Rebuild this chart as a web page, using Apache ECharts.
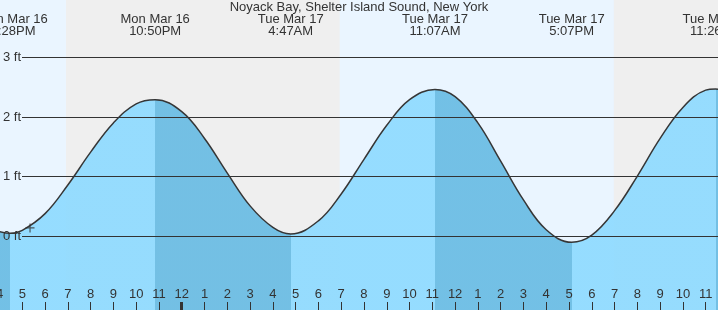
<!DOCTYPE html>
<html><head><meta charset="utf-8">
<script src="https://cdn.jsdelivr.net/npm/echarts@6/dist/echarts.min.js"></script>
<style>html,body{margin:0;padding:0;background:#fff}#c{width:718px;height:310px}</style>
</head><body><div id="c"></div>
<script>
// ---- data (hours counted from Mon Mar 16 00:00) ----
const chartTitle = 'Noyack Bay, Shelter Island Sound, New York';
const tideTimes   = [16.0, 16.467, 17, 18, 19, 20, 21, 22, 22.833, 24, 25, 26, 27, 28, 28.783, 30, 31, 32, 33, 34, 35.117, 36, 37, 38, 39, 40, 41.117, 42, 43, 44, 45, 46, 47, 47.433, 47.6];
const tideHeights = [0.08, 0.05, 0.10, 0.38, 0.86, 1.41, 1.90, 2.22, 2.29, 2.09, 1.64, 1.06, 0.51, 0.15, 0.04, 0.26, 0.71, 1.29, 1.86, 2.29, 2.46, 2.34, 1.90, 1.26, 0.61, 0.11, -0.10, 0.02, 0.43, 1.01, 1.64, 2.16, 2.45, 2.47, 2.46];
const extremaTimes = [16.467, 22.833, 28.783, 35.117, 41.117, 47.433];
const extremaKinds = ['low', 'high', 'low', 'high', 'low', 'high'];
const extremaDays  = ['Mon Mar 16', 'Mon Mar 16', 'Tue Mar 17', 'Tue Mar 17', 'Tue Mar 17', 'Tue Mar 17'];
const extremaClock = ['4:28PM', '10:50PM', '4:47AM', '11:07AM', '5:07PM', '11:26PM'];
const nightStarts = [18.917, 42.967];
const nightEnds   = [30.933, 48.0];
const hourTicks  = [16,17,18,19,20,21,22,23,24,25,26,27,28,29,30,31,32,33,34,35,36,37,38,39,40,41,42,43,44,45,46,47];
const hourLabels = ['4','5','6','7','8','9','10','11','12','1','2','3','4','5','6','7','8','9','10','11','12','1','2','3','4','5','6','7','8','9','10','11'];
const midnightTicks = [24];
const levelTicks = [0, 1, 2, 3];
const levelUnit = 'ft';
const nowPoint = [17.34, 0.14];

// ---- layout / style ----
const X_MIN = 16.0, X_MAX = 47.54, GRID_LEFT = -0.5, W = 718;
const Y_MIN = -1.235, Y_MAX = 3.96;
const LINE_START = 22;
const pxPerHour = (W - GRID_LEFT) / (X_MAX - X_MIN);
const X_MIN_G1 = X_MIN + (LINE_START - GRID_LEFT) / pxPerHour;
const FONT = "'Liberation Sans', Arial, sans-serif";
const TXT = '#333';
const DAY = '#eaf5ff', NIGHT = '#efefef';
const LIGHT = '#8ddaff', DARK = '#67bbe3';

const pieces = [];
pieces.push({lt: extremaTimes[0], color: extremaKinds[0] === 'low' ? DARK : LIGHT});
for (let i = 0; i < extremaTimes.length - 1; i++) {
  pieces.push({gte: extremaTimes[i], lt: extremaTimes[i + 1], color: extremaKinds[i] === 'high' ? DARK : LIGHT});
}
pieces.push({gte: extremaTimes[extremaTimes.length - 1], color: extremaKinds[extremaTimes.length - 1] === 'high' ? DARK : LIGHT});

const richBase = {color: TXT, fontSize: 13, fontFamily: FONT, lineHeight: 12};
const chart = echarts.init(document.getElementById('c'), null, {renderer: 'canvas'});
chart.setOption({
  animation: false,
  backgroundColor: DAY,
  title: {
    text: chartTitle, left: 'center', top: 1, padding: 0,
    textStyle: {fontSize: 13, fontWeight: 'normal', color: TXT, fontFamily: FONT}
  },
  grid: [
    {left: GRID_LEFT, right: 0, top: 0, bottom: 0, containLabel: false, outerBoundsMode: 'none'},
    {left: LINE_START, right: 0, top: 0, bottom: 0, containLabel: false, outerBoundsMode: 'none'}
  ],
  visualMap: {
    show: false, type: 'piecewise', seriesIndex: 1, dimension: 0, pieces: pieces
  },
  xAxis: [
    {
      gridIndex: 0, type: 'value', min: X_MIN, max: X_MAX, position: 'bottom', z: 5,
      axisLine: {show: false, onZero: false}, splitLine: {show: false},
      axisTick: {show: true, inside: true, length: 8, customValues: hourTicks, lineStyle: {color: TXT, width: 1}},
      axisLabel: {
        inside: true, margin: 9, customValues: hourTicks, interval: 0, hideOverlap: false,
        color: TXT, fontSize: 13, fontFamily: FONT,
        formatter: v => { const i = hourTicks.indexOf(Math.round(v)); return i >= 0 ? hourLabels[i] : ''; }
      }
    },
    {
      gridIndex: 1, type: 'value', min: X_MIN_G1, max: X_MAX, position: 'bottom', z: 5,
      axisLine: {show: false, onZero: false}, splitLine: {show: false}, axisLabel: {show: false},
      axisTick: {show: true, inside: true, length: 8, customValues: midnightTicks, lineStyle: {color: TXT, width: 3}}
    },
    {
      gridIndex: 0, type: 'value', min: X_MIN, max: X_MAX, position: 'top', z: 5,
      axisLine: {show: false, onZero: false}, splitLine: {show: false}, axisTick: {show: false},
      axisLabel: {
        inside: true, margin: 13, customValues: extremaTimes, interval: 0, hideOverlap: false,
        color: TXT, fontSize: 13, fontFamily: FONT, lineHeight: 12, align: 'center',
        rich: {
          e: Object.assign({}, richBase),
          s: Object.assign({padding: [0, 0, 0, 6]}, richBase)
        },
        formatter: v => {
          let i = 0, best = 1e9;
          extremaTimes.forEach((t, k) => { if (Math.abs(t - v) < best) { best = Math.abs(t - v); i = k; } });
          const st = i === 0 ? 's' : 'e';
          return '{' + st + '|' + extremaDays[i] + '}\n{' + st + '|' + extremaClock[i] + '}';
        }
      }
    }
  ],
  yAxis: [
    {gridIndex: 0, type: 'value', min: Y_MIN, max: Y_MAX, show: false},
    {
      gridIndex: 1, type: 'value', min: Y_MIN, max: Y_MAX, position: 'left', z: 5,
      axisLine: {show: false, onZero: false}, axisTick: {show: false}, splitLine: {show: false},
      axisLabel: {
        customValues: levelTicks, margin: 19, align: 'left', color: TXT, fontSize: 13, fontFamily: FONT,
        formatter: v => v + ' ' + levelUnit
      }
    }
  ],
  series: [
    {
      type: 'line', xAxisIndex: 0, yAxisIndex: 0, data: [], z: 0, silent: true,
      markArea: {
        silent: true, itemStyle: {color: NIGHT},
        data: nightStarts.map((s, i) => [{xAxis: s}, {xAxis: nightEnds[i]}])
      }
    },
    {
      type: 'line', xAxisIndex: 0, yAxisIndex: 0, z: 3, silent: true,
      data: tideTimes.map((t, i) => [t, tideHeights[i]]),
      smooth: 0.4, showSymbol: false, symbol: 'none',
      lineStyle: {color: '#363636', width: 1.5},
      areaStyle: {opacity: 0.91, origin: 'start'}
    },
    {
      type: 'line', xAxisIndex: 1, yAxisIndex: 1, data: [], z: 1, silent: true,
      markLine: {
        silent: true, symbol: ['none', 'none'], label: {show: false},
        lineStyle: {color: TXT, width: 1, type: 'solid'},
        data: levelTicks.map(v => ({yAxis: v}))
      }
    },
    {
      type: 'scatter', xAxisIndex: 0, yAxisIndex: 0, z: 6, silent: true,
      data: [nowPoint],
      symbol: 'path://M0,5L10,5M5,0L5,10', symbolSize: 9,
      itemStyle: {color: 'transparent', borderColor: TXT, borderWidth: 1.2}
    }
  ]
});
</script></body></html>
